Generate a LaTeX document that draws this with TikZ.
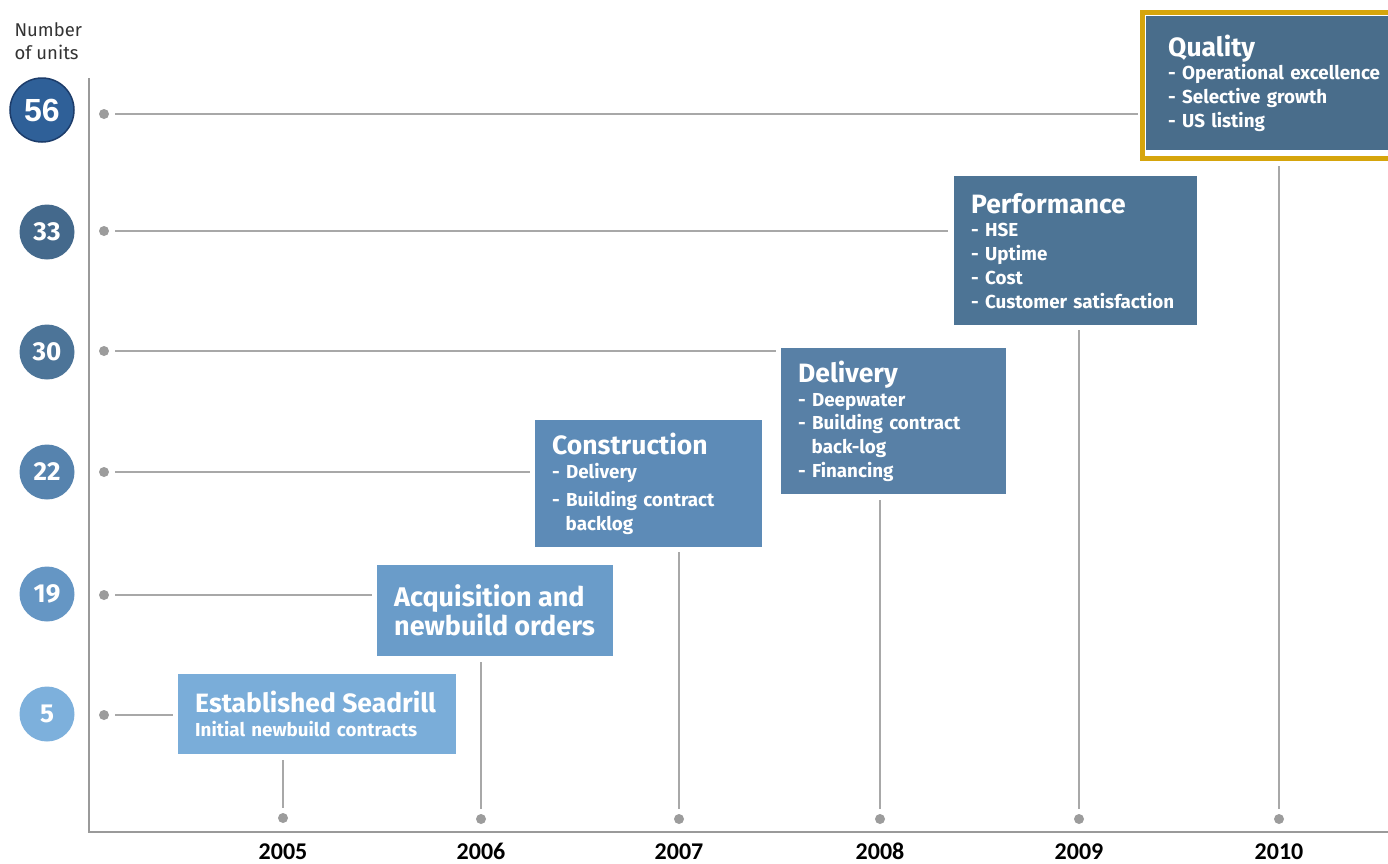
\documentclass[tikz,border=0pt]{standalone}
\usepackage{fontspec}
\setmainfont{Fira Sans}
\newfontfamily\yearfont{Carlito}
\newfontfamily\bignumfont{Liberation Sans}
\usetikzlibrary{positioning}

\definecolor{dotgray}{HTML}{9C9C9C}
\definecolor{linegray}{HTML}{A8A8A8}
\definecolor{axisgray}{HTML}{9A9A9A}
\definecolor{gold}{HTML}{D6A50C}
\definecolor{c56}{HTML}{2F6098}
\definecolor{c56rim}{HTML}{1C3C6A}
\definecolor{c33}{HTML}{44698C}
\definecolor{c30}{HTML}{4C7498}
\definecolor{c22}{HTML}{5683AE}
\definecolor{c19}{HTML}{6596C4}
\definecolor{c5}{HTML}{7DB0DC}
\definecolor{bquality}{HTML}{496D8B}
\definecolor{bperf}{HTML}{4D7495}
\definecolor{bdeliv}{HTML}{5880A6}
\definecolor{bconstr}{HTML}{5D8BB7}
\definecolor{bacq}{HTML}{6A9CC9}
\definecolor{bestab}{HTML}{7AADD9}

\newcommand{\stagehead}[1]{{\fontsize{26.5}{28}\selectfont #1}}

\begin{document}
\begin{tikzpicture}[x=1pt, y=-1pt,
    unit/.style  = {circle, inner sep=0, minimum size=55pt, text=white, font=\bfseries\fontsize{26}{26}\selectfont},
    dot/.style   = {circle, fill=dotgray, inner sep=0, minimum size=10pt},
    stage/.style = {anchor=north west, align=left, text=white, inner xsep=17pt, inner ysep=6pt, font=\bfseries\fontsize{18.8}{23.8}\selectfont},
    year/.style  = {inner sep=0, anchor=base, font=\yearfont\bfseries\fontsize{24}{24}\selectfont},
    link/.style  = {draw=linegray, line width=1.6pt}]
    \useasboundingbox[fill=white] (0,0) rectangle (1388,863);

    \coordinate (ytop)   at (89,78);
    \coordinate (origin) at (89,832);
    \coordinate (xend)   at (1388,832);
    \draw[axisgray, line width=2pt] (ytop) -- (origin) -- (xend);

    \node[align=left, text=black!80, font=\fontsize{18.5}{23}\selectfont, anchor=west] (ylabel) at (11,41) {Number\\of units};

    \node[circle, inner sep=0, minimum size=64pt, fill=c56, draw=c56rim, line width=1.5pt, text=white, font=\bignumfont\bfseries\fontsize{32}{32}\selectfont] (u56) at (42,110) {56};
    \node[unit, fill=c33] (u33) at (47,232) {33};
    \node[unit, fill=c30] (u30) at (47,352) {30};
    \node[unit, fill=c22] (u22) at (47,472) {22};
    \node[unit, fill=c19] (u19) at (47,594) {19};
    \node[unit, fill=c5]  (u5)  at (47,714) {5};

    \node[dot] (d56) at (104,114) {};
    \node[dot] (d33) at (104,231) {};
    \node[dot] (d30) at (104,351) {};
    \node[dot] (d22) at (104,472) {};
    \node[dot] (d19) at (104,595) {};
    \node[dot] (d5)  at (104,715) {};

    \node[stage, fill=bestab, minimum width=278pt, minimum height=80pt, text width=244pt] (established) at (178,674) {
      \stagehead{Established Seadrill}\\
      Initial newbuild contracts
    };
    \node[stage, fill=bacq, minimum width=236pt, minimum height=91pt, text width=202pt] (acquisition) at (377,565) {
      {\fontsize{27}{31}\selectfont Acquisition and\\newbuild orders}
    };
    \node[stage, fill=bconstr, minimum width=227pt, minimum height=127pt, text width=193pt] (construction) at (535,420) {
      \stagehead{Construction}\\
      - Delivery\\[4pt]
      - Building contract\\
      \hspace*{0.72em}backlog
    };
    \node[stage, fill=bdeliv, minimum width=225pt, minimum height=146pt, text width=191pt] (delivery) at (781,348) {
      \stagehead{Delivery}\\
      - Deepwater\\
      - Building contract\\
      \hspace*{0.72em}back-log\\
      - Financing
    };
    \node[stage, fill=bperf, minimum width=243pt, minimum height=149pt, text width=209pt] (performance) at (954,176) {
      \stagehead{Performance}\\
      - HSE\\
      - Uptime\\
      - Cost\\
      - Customer satisfaction
    };
    \node[stage, fill=bquality, minimum width=262pt, minimum height=134pt, text width=226pt, inner xsep=22pt] (quality) at (1146,16) {
      \stagehead{Quality}\\
      - Operational excellence\\
      - Selective growth\\
      - US listing
    };
    \node[anchor=north west, draw=gold, line width=5pt, minimum width=270pt, minimum height=146pt, inner sep=0] (qframe) at (1140,10) {};

    \node[dot] (y2005) at (283,818) {};
    \node[dot] (y2006) at (481,819) {};
    \node[dot] (y2007) at (679,819) {};
    \node[dot] (y2008) at (880,819) {};
    \node[dot] (y2009) at (1079,819) {};
    \node[dot] (y2010) at (1279,819) {};

    \node[year] (l2005) at (283,859) {2005};
    \node[year] (l2006) at (481,859) {2006};
    \node[year] (l2007) at (679,859) {2007};
    \node[year] (l2008) at (880,859) {2008};
    \node[year] (l2009) at (1079,859) {2009};
    \node[year] (l2010) at (1279,859) {2010};

    \draw[link, shorten <=6pt, shorten >=2pt] (d56) -- (d56 -| qframe.west);
    \draw[link, shorten <=6pt, shorten >=6pt] (d33) -- (d33 -| performance.west);
    \draw[link, shorten <=6pt, shorten >=5pt] (d30) -- (d30 -| delivery.west);
    \draw[link, shorten <=6pt, shorten >=5pt] (d22) -- (d22 -| construction.west);
    \draw[link, shorten <=6pt, shorten >=5pt] (d19) -- (d19 -| acquisition.west);
    \draw[link, shorten <=6pt, shorten >=5pt] (d5)  -- (d5 -| established.west);

    \draw[link, shorten <=5pt, shorten >=6pt] (y2005) -- (y2005 |- established.south);
    \draw[link, shorten <=5pt, shorten >=6pt] (y2006) -- (y2006 |- acquisition.south);
    \draw[link, shorten <=5pt, shorten >=5pt] (y2007) -- (y2007 |- construction.south);
    \draw[link, shorten <=5pt, shorten >=6pt] (y2008) -- (y2008 |- delivery.south);
    \draw[link, shorten <=5pt, shorten >=5pt] (y2009) -- (y2009 |- performance.south);
    \draw[link, shorten <=5pt, shorten >=5pt] (y2010) -- (y2010 |- qframe.south);
  \end{tikzpicture}
\end{document}
